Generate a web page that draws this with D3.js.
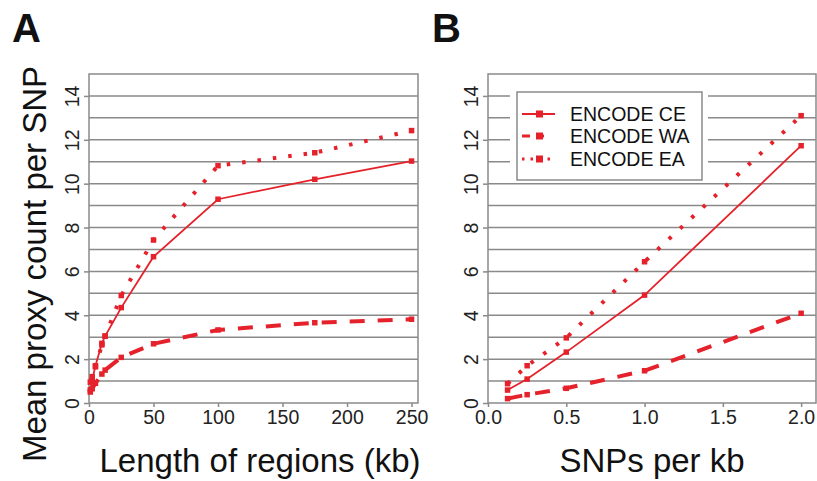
<!DOCTYPE html>
<html><head><meta charset="utf-8">
<script src="https://cdn.jsdelivr.net/npm/d3@7"></script>
<style>body{margin:0;background:#fff}svg{display:block}text{font-family:"Liberation Sans",Arial,sans-serif}</style>
</head><body>
<svg id="c" width="817" height="481"></svg>
<script>
// Panel A data
const lengthKb = [1, 2.5, 5, 10, 12.5, 25, 50, 100, 175, 250];
const aCE = [0.6, 1.05, 1.7, 2.72, 3.05, 4.35, 6.67, 9.29, 10.2, 11.03];
const aWA = [0.5, 0.65, 0.9, 1.32, 1.5, 2.08, 2.7, 3.33, 3.66, 3.82];
const aEA = [0.95, 1.2, 1.65, 2.65, 3.05, 4.9, 7.43, 10.82, 11.41, 12.42];
// Panel B data
const snpsPerKb = [0.125, 0.25, 0.5, 1, 2];
const bCE = [0.59, 1.09, 2.32, 4.92, 11.73];
const bWA = [0.2, 0.38, 0.67, 1.47, 4.09];
const bEA = [0.88, 1.7, 2.97, 6.44, 13.1];
const seriesNames = ["ENCODE CE", "ENCODE WA", "ENCODE EA"];
const yTicks = [0, 2, 4, 6, 8, 10, 12, 14];
const gridVals = [1,2,3,4,5,6,7,8,9,10,11,12,13,14];
const xTicksA = [0, 50, 100, 150, 200, 250];
const xTicksB = [0, 0.5, 1.0, 1.5, 2.0];

const RED = "#e5222b", GRID = "#8a8a8a";
const styles = [
  {w: 1.8, dash: null},
  {w: 4, dash: "15,13"},
  {w: 4, dash: "3.5,12"}
];
const svg = d3.select("#c");
const y = d3.scaleLinear().domain([0, 15]).range([403, 74]);

function panel(xs, x, series, xTicks, fmt, title, label, lx, titleX) {
  const g = svg.append("g");
  const [x0, x1] = x.range();
  g.selectAll(".grid").data(gridVals).enter().append("line")
    .attr("x1", x0).attr("x2", x1).attr("y1", d => y(d)).attr("y2", d => y(d))
    .attr("stroke", GRID).attr("stroke-width", 1.5);
  const ya = g.append("g").attr("transform", `translate(${x0},0)`)
    .call(d3.axisLeft(y).tickValues(yTicks).tickSize(5).tickPadding(0).tickFormat(d3.format("d")));
  ya.select(".domain").remove();
  ya.selectAll("line").attr("stroke", GRID).attr("stroke-width", 1.5);
  ya.selectAll("text").attr("transform", "translate(-17,0) rotate(-90)").attr("text-anchor", "middle")
    .attr("dy", "0.36em").attr("x", 0).attr("y", 0).style("font-size", "19.5px").attr("fill", "#222");
  const xa = g.append("g").attr("transform", `translate(0,${y(0)})`)
    .call(d3.axisBottom(x).tickValues(xTicks).tickSize(4).tickPadding(3).tickFormat(fmt));
  xa.select(".domain").remove();
  xa.selectAll("line").attr("stroke", GRID).attr("stroke-width", 1.5);
  xa.selectAll("text").style("font-size", "19.5px").attr("fill", "#222");
  g.append("rect").attr("x", x0).attr("y", y(15)).attr("width", x1 - x0).attr("height", y(0) - y(15))
    .attr("fill", "none").attr("stroke", GRID).attr("stroke-width", 1.5);
  series.forEach((vals, i) => {
    const pts = xs.map((v, j) => [v, vals[j]]);
    g.append("path").datum(pts)
      .attr("d", d3.line().x(d => x(d[0])).y(d => y(d[1])))
      .attr("fill", "none").attr("stroke", RED).attr("stroke-width", styles[i].w)
      .attr("stroke-dasharray", styles[i].dash);
    g.selectAll(".m" + i).data(pts).enter().append("rect")
      .attr("x", d => x(d[0]) - 2.75).attr("y", d => y(d[1]) - 2.75)
      .attr("width", 5.5).attr("height", 5.5).attr("fill", RED);
  });
  svg.append("text").attr("x", titleX).attr("y", 472).attr("text-anchor", "middle")
    .style("font-size", "33px").attr("fill", "#111").text(title);
  svg.append("text").attr("x", lx).attr("y", 42).style("font-size", "40px").style("font-weight", "bold")
    .attr("fill", "#111").text(label);
  return g;
}

const xA = d3.scaleLinear().domain([0, 255]).range([89, 418]);
panel(lengthKb, xA, [aCE, aWA, aEA], xTicksA, d3.format("d"), "Length of regions (kb)", "A", 12, 260);

const xB = d3.scaleLinear().domain([0, 2.095]).range([488, 816]);
const gB = panel(snpsPerKb, xB, [bCE, bWA, bEA], xTicksB, d3.format(".1f"), "SNPs per kb", "B", 432, 652);

svg.append("text").attr("transform", "translate(46,264) rotate(-90)").attr("text-anchor", "middle")
  .style("font-size", "33px").attr("fill", "#111").text("Mean proxy count per SNP");

const leg = gB.append("g");
leg.append("rect").attr("x", 510).attr("y", 86).attr("width", 198).attr("height", 94).attr("fill", "#fff");
leg.append("rect").attr("x", 517).attr("y", 92).attr("width", 185).attr("height", 88)
  .attr("fill", "#fff").attr("stroke", GRID).attr("stroke-width", 1.5);
const legRows = [114, 136, 159];
const legSample = [[522, 555, null], [522, 550, "8,6"], [522, 556, "2.5,6"]];
seriesNames.forEach((n, i) => {
  const yy = legRows[i];
  leg.append("line").attr("x1", legSample[i][0]).attr("x2", legSample[i][1]).attr("y1", yy).attr("y2", yy)
    .attr("stroke", RED).attr("stroke-width", i === 0 ? 1.8 : 3).attr("stroke-dasharray", legSample[i][2]);
  leg.append("rect").attr("x", 536).attr("y", yy - 3.5).attr("width", 7).attr("height", 7).attr("fill", RED);
  leg.append("text").attr("x", 570).attr("y", yy).attr("dy", "0.36em").style("font-size", "19.5px")
    .attr("fill", "#111").text(n);
});
</script>
</body></html>
